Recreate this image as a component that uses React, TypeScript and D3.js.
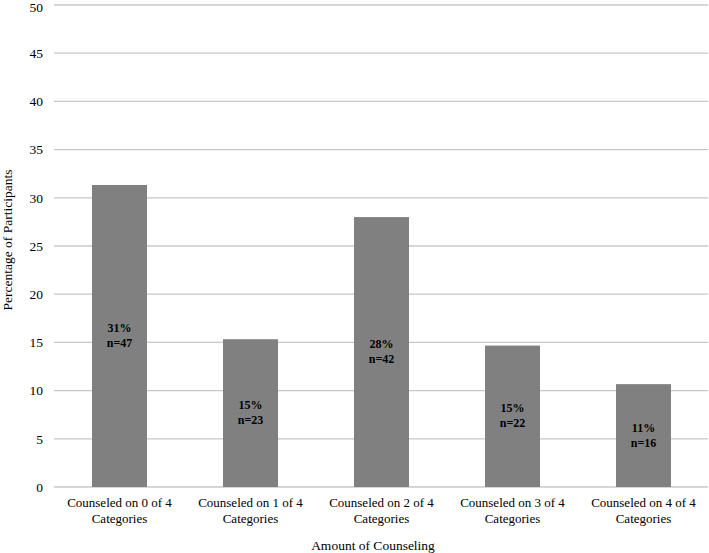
import React from "react";
import * as d3 from "d3";

const categories = [
  ["Counseled on 0 of 4", "Categories"],
  ["Counseled on 1 of 4", "Categories"],
  ["Counseled on 2 of 4", "Categories"],
  ["Counseled on 3 of 4", "Categories"],
  ["Counseled on 4 of 4", "Categories"],
];
const percentages = [31.33, 15.33, 28.0, 14.67, 10.67];
const pctLabels = ["31%", "15%", "28%", "15%", "11%"];
const nLabels = ["n=47", "n=23", "n=42", "n=22", "n=16"];
const yTicks = [0, 5, 10, 15, 20, 25, 30, 35, 40, 45, 50];

const W = 709;
const H = 553;
const font =
  "'Times New Roman', Times, 'Liberation Serif', 'Nimbus Roman', 'Noto Serif', 'DejaVu Serif', serif";
const ts: React.CSSProperties = { fontFamily: font };

export default function App() {
  const x = d3
    .scaleBand<number>()
    .domain(d3.range(categories.length))
    .range([54, 709])
    .paddingInner(0.58)
    .paddingOuter(0.29);
  const y = d3.scaleLinear().domain([0, 50]).range([487, 5]);

  return (
    <svg
      width={W}
      height={H}
      style={{ position: "absolute", left: 0, top: 0, background: "#fff", fontFamily: font }}
    >
      {yTicks.map((t) => (
        <g key={t}>
          <line x1={54} x2={708} y1={y(t)} y2={y(t)} stroke="#c8c8c8" strokeWidth={1.3} />
          <text
            x={43}
            y={Math.max(y(t), 7)}
            dy="0.35em"
            textAnchor="end"
            fontSize={13.5}
            fill="#000"
            style={ts}
          >
            {t}
          </text>
        </g>
      ))}
      {percentages.map((v, i) => {
        const bx = x(i)!;
        const bw = x.bandwidth();
        const top = y(v);
        const mid = (top + y(0)) / 2;
        return (
          <g key={i}>
            <rect x={bx} y={top} width={bw} height={y(0) - top} fill="#808080" />
            <text
              x={bx + bw / 2}
              y={mid - 8}
              dy="0.35em"
              textAnchor="middle"
              fontSize={12}
              fontWeight="bold"
              fill="#000"
              style={ts}
            >
              {pctLabels[i]}
            </text>
            <text
              x={bx + bw / 2}
              y={mid + 7}
              dy="0.35em"
              textAnchor="middle"
              fontSize={12}
              fontWeight="bold"
              fill="#000"
              style={ts}
            >
              {nLabels[i]}
            </text>
            {categories[i].map((line, j) => (
              <text
                key={j}
                x={bx + bw / 2}
                y={502 + j * 16}
                dy="0.35em"
                textAnchor="middle"
                fontSize={13}
                fill="#000"
                style={ts}
              >
                {line}
              </text>
            ))}
          </g>
        );
      })}
      <text x={373} y={545} dy="0.35em" textAnchor="middle" fontSize={13.5} fill="#000" style={ts}>
        Amount of Counseling
      </text>
      <text
        transform={`translate(12,240) rotate(-90)`}
        textAnchor="middle"
        fontSize={13.5}
        fill="#000"
        style={ts}
      >
        Percentage of Participants
      </text>
    </svg>
  );
}
